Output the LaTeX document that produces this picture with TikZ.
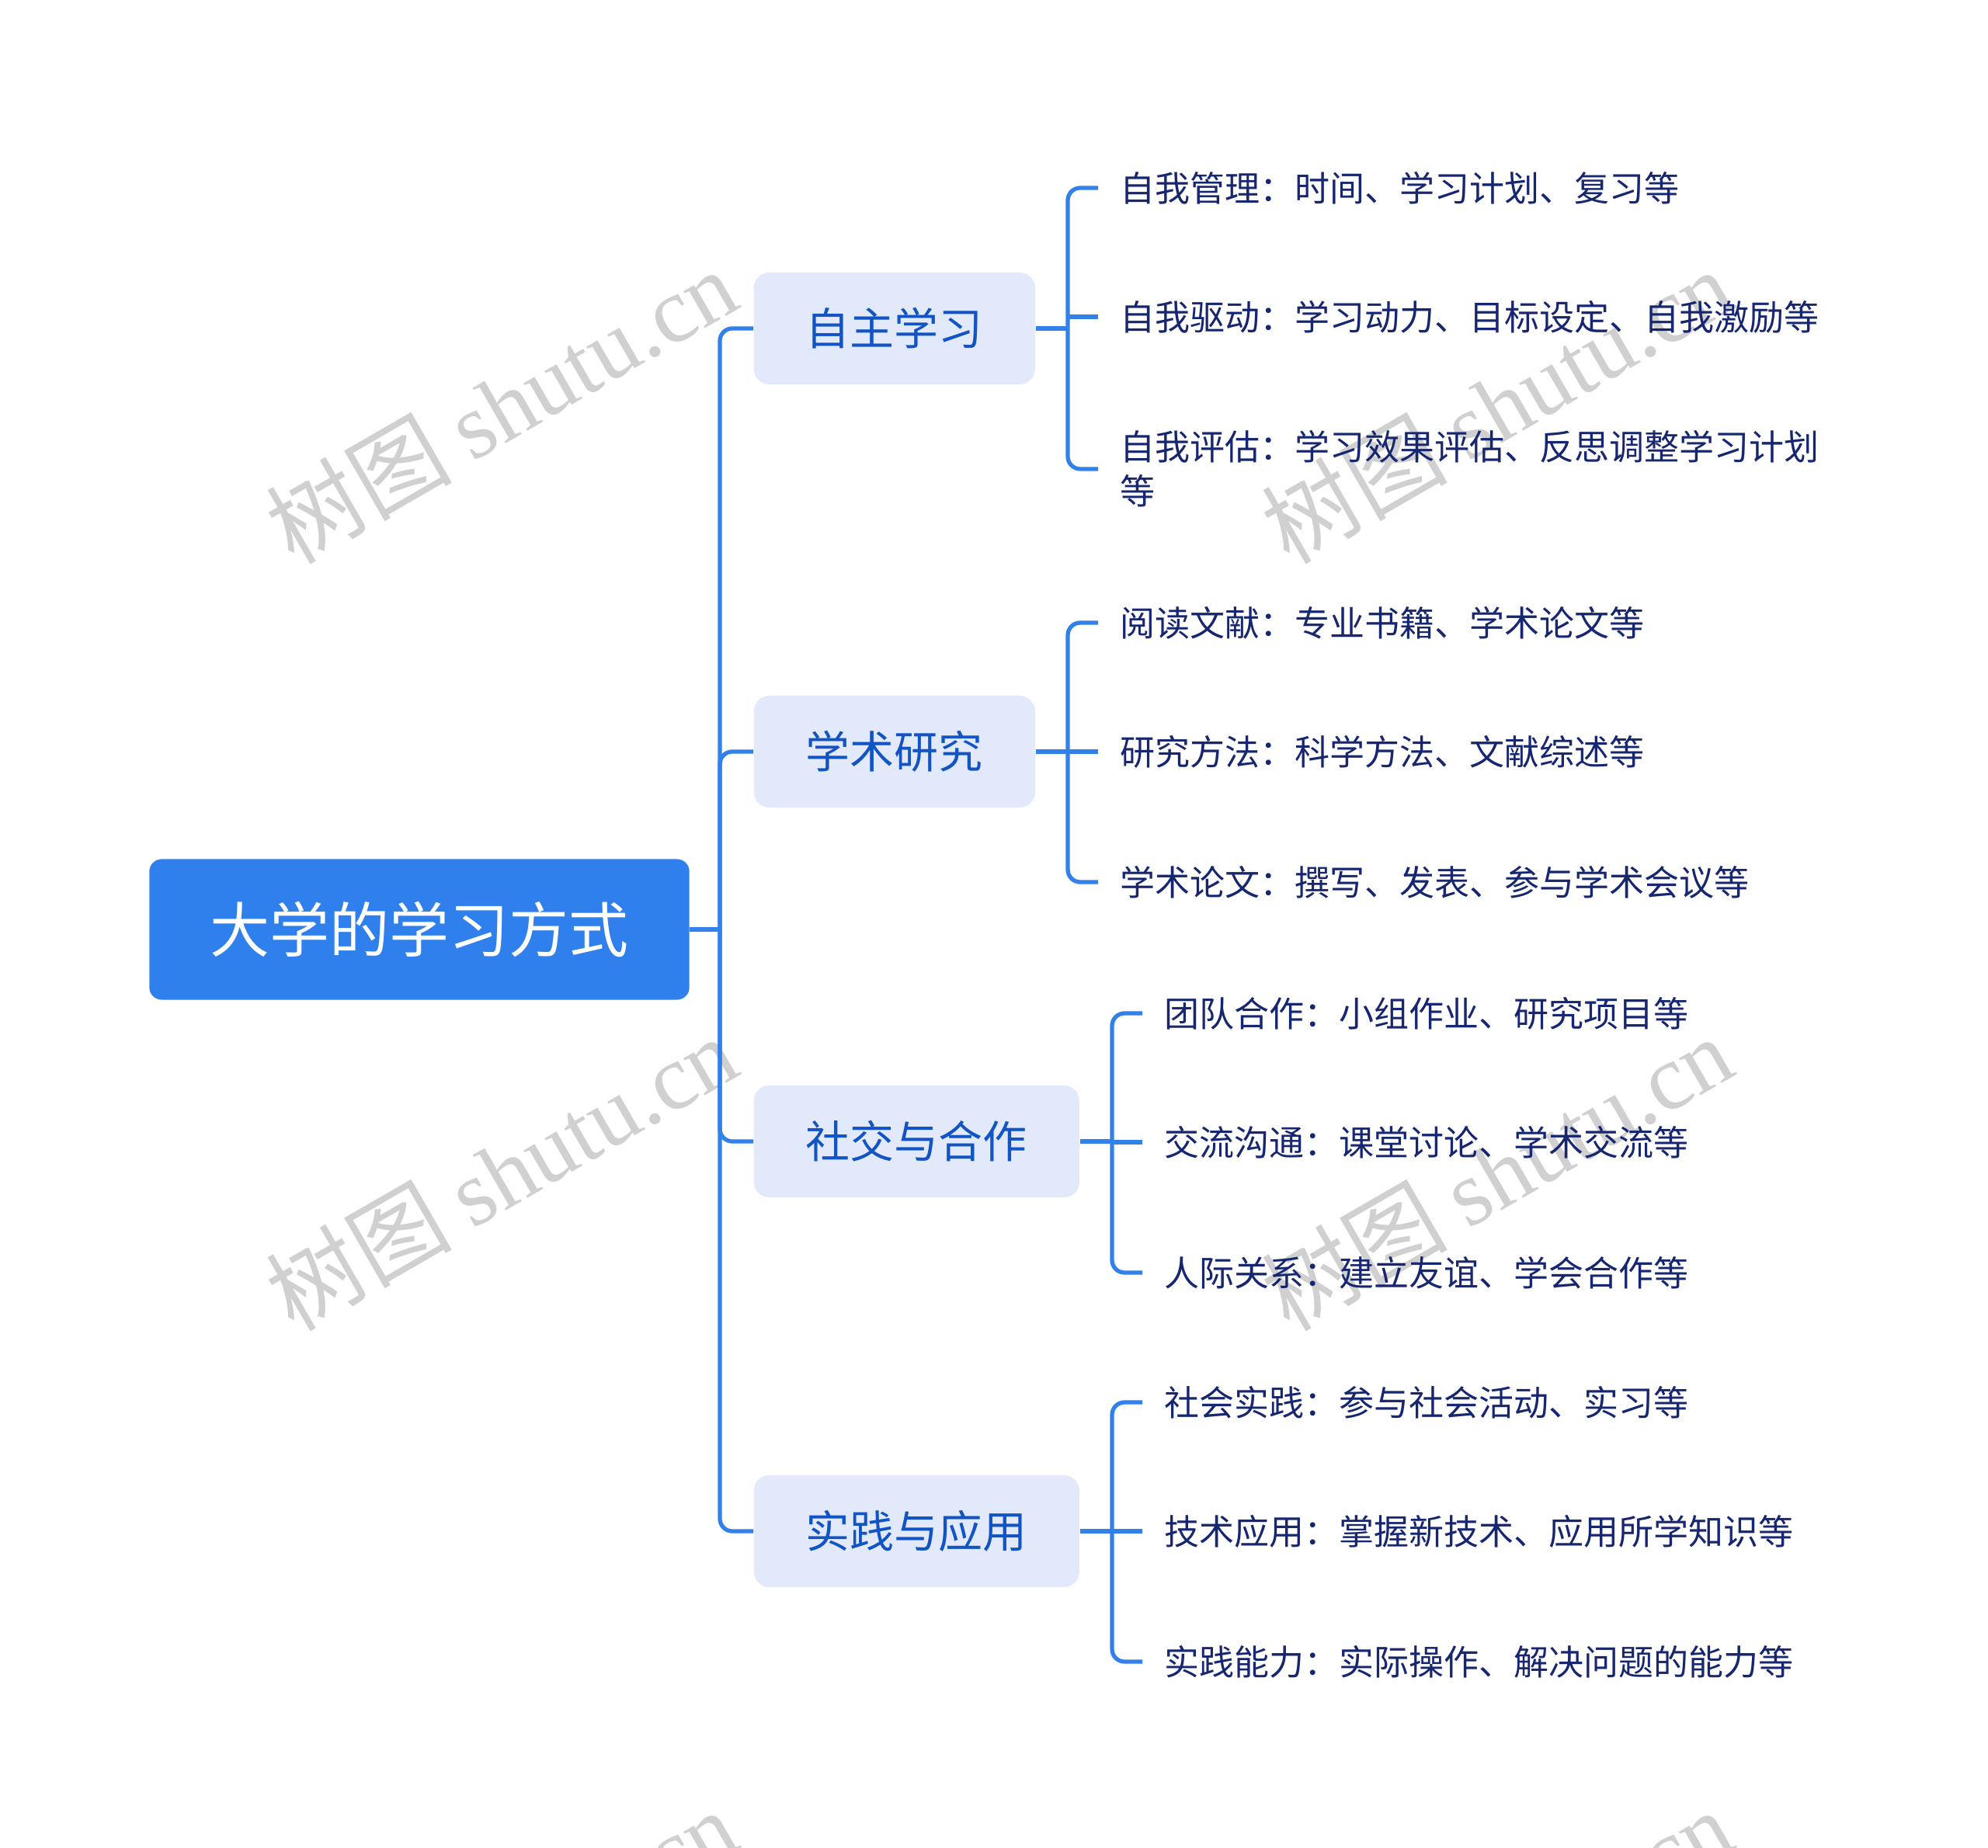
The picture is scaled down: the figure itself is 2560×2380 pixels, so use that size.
\documentclass[tikz,border=0pt]{standalone}
\usepackage{fontspec}
\setmainfont{Noto Sans CJK SC}
\newfontfamily\wmlatin{Liberation Serif}
\usetikzlibrary{positioning,calc}
\definecolor{rootblue}{RGB}{47,128,237}
\definecolor{linkblue}{RGB}{50,128,234}
\definecolor{branchfill}{RGB}{225,233,251}
\definecolor{branchtext}{RGB}{18,84,196}
\definecolor{leaftext}{RGB}{22,38,112}
\definecolor{markgray}{RGB}{208,208,208}

\begin{document}
\begin{tikzpicture}[x=0.01cm,y=-0.01cm,
  rootbox/.style={fill=rootblue,text=white,rounded corners=0.16cm,
    minimum width=6.95cm,minimum height=1.81cm,inner sep=0pt,
    font=\fontsize{21.9pt}{26pt}\selectfont},
  topicbox/.style={fill=branchfill,text=branchtext,rounded corners=0.2cm,
    minimum height=1.44cm,anchor=west,inner sep=0pt,
    font=\fontsize{16.2pt}{20pt}\selectfont},
  leaf/.style={text=leaftext,anchor=west,inner xsep=0.28cm,inner ysep=0pt,
    align=left,font=\fontsize{12.8pt}{16.2pt}\selectfont},
  link/.style={draw=linkblue,line width=1.5pt,rounded corners=0.16cm},
  wmark/.style={rotate=30,text=markgray,font=\fontsize{34pt}{40pt}\selectfont}]
\useasboundingbox[fill=white] (0,0) rectangle (2560,2380);

% watermarks
\begin{scope}
\clip (0,0) rectangle (2560,2380);
\foreach \x in {645,1927}
  \foreach \y in {522,1510,2506}
    \node[wmark] (wm-\x-\y) at (\x,\y) {树图 {\wmlatin shutu.cn}};
\end{scope}

% root and topics
\node[rootbox] (root) at (540,1197) {大学的学习方式};
\coordinate (hub) at (927,1197);
\node[topicbox,minimum width=3.62cm] (t1) at (970,423)  {自主学习};
\node[topicbox,minimum width=3.62cm] (t2) at (970,968)  {学术研究};
\node[topicbox,minimum width=4.19cm] (t3) at (970,1470) {社交与合作};
\node[topicbox,minimum width=4.19cm] (t4) at (970,1972) {实践与应用};

% leaves
\node[leaf] (l11) at (1414,242)  {自我管理：时间、学习计划、复习等};
\node[leaf] (l12) at (1414,408)  {自我驱动：学习动力、目标设定、自我激励等};
\node[leaf] (l13) at (1414,604)  {自我评估：学习效果评估、反思调整学习计划\\等};
\node[leaf] (l21) at (1414,802)  {阅读文献：专业书籍、学术论文等};
\node[leaf] (l22) at (1414,968)  {研究方法：科学方法、文献综述等};
\node[leaf] (l23) at (1414,1136) {学术论文：撰写、发表、参与学术会议等};
\node[leaf] (l31) at (1471,1305) {团队合作：小组作业、研究项目等};
\node[leaf] (l32) at (1471,1471) {交流沟通：课堂讨论、学术交流等};
\node[leaf] (l33) at (1471,1639) {人际关系：建立友谊、学会合作等};
\node[leaf] (l41) at (1471,1806) {社会实践：参与社会活动、实习等};
\node[leaf] (l42) at (1471,1972) {技术应用：掌握新技术、应用所学知识等};
\node[leaf] (l43) at (1471,2140) {实践能力：实际操作、解决问题的能力等};

\coordinate (j1) at (1375,423);
\coordinate (j2) at (1375,968);
\coordinate (j3) at (1432,1470);
\coordinate (j4) at (1432,1972);

% connectors
\draw[link] (root.east) -- (hub);
\draw[link] (t1.west) -| (hub) |- (t4.west);
\draw[link] (t2.west) -| (hub);
\draw[link] (t3.west) -| (hub);
\foreach \i in {1,...,4}{
  \draw[link] (t\i.east) -- (j\i);
  \draw[link] (l\i1.west) -| (j\i) |- (l\i3.west);
  \draw[link] (l\i2.west) -- (l\i2.west -| j\i);}
\end{tikzpicture}
\end{document}
